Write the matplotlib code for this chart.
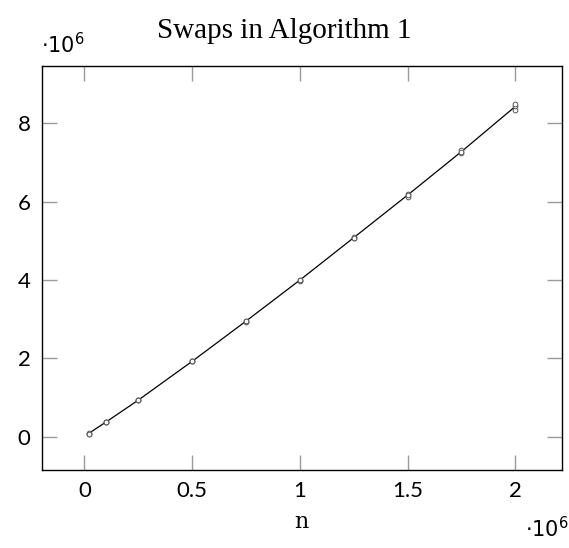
import numpy as np
import matplotlib
matplotlib.use("Agg")
import matplotlib.pyplot as plt
from matplotlib.ticker import FuncFormatter, MultipleLocator

# problem sizes and measured swap counts (three runs per size)
n = [0.02e6, 0.1e6, 0.25e6, 0.5e6, 0.75e6, 1.0e6, 1.25e6, 1.5e6, 1.75e6, 2.0e6]
swaps_run1 = [0.08e6, 0.37e6, 0.93e6, 1.92e6, 2.94e6, 3.98e6, 5.06e6, 6.13e6, 7.23e6, 8.34e6]
swaps_run2 = [0.09e6, 0.38e6, 0.94e6, 1.93e6, 2.96e6, 4.01e6, 5.10e6, 6.20e6, 7.32e6, 8.45e6]
swaps_run3 = [0.08e6, 0.37e6, 0.93e6, 1.92e6, 2.95e6, 4.00e6, 5.08e6, 6.17e6, 7.28e6, 8.50e6]

title = "Swaps in Algorithm 1"
xlabel = "n"

runs = np.array([swaps_run1, swaps_run2, swaps_run3])
mean_swaps = runs.mean(axis=0)

fig = plt.figure(figsize=(5.69, 5.48), dpi=100)
ax = fig.add_axes([0.0733, 0.1423, 0.9137, 0.7378])

ax.plot(n, mean_swaps, color="black", lw=0.9, zorder=2)
for r in runs:
    ax.plot(n, r, ls="none", marker="o", ms=3.4, mfc="white",
            mec="#555555", mew=0.7, zorder=3)

ax.set_xlim(-0.198e6, 2.215e6)
ax.set_ylim(-0.85e6, 9.47e6)
ax.xaxis.set_major_locator(MultipleLocator(0.5e6))
ax.yaxis.set_major_locator(MultipleLocator(2e6))
fmt = FuncFormatter(lambda v, p: f"{v / 1e6:g}")
ax.xaxis.set_major_formatter(fmt)
ax.yaxis.set_major_formatter(fmt)

ax.tick_params(direction="in", length=11, width=1.0, color="#9a9a9a",
               top=True, right=True, labelsize=16, pad=8)
for lab in ax.get_xticklabels() + ax.get_yticklabels():
    lab.set_family("Lato")
for s in ax.spines.values():
    s.set_linewidth(1.0)

fig.text(0.5, 0.931, title, ha="center", va="baseline",
         family="Liberation Serif", fontsize=21)
fig.text(0.53, 0.047, xlabel, ha="center", va="center",
         family="DejaVu Serif", fontsize=16)
fig.text(0.072, 0.918, r"$\cdot 10^{6}$", ha="left", va="center",
         fontsize=15, math_fontfamily="dejavusans")
fig.text(0.922, 0.035, r"$\cdot 10^{6}$", ha="left", va="center",
         fontsize=15, math_fontfamily="dejavusans")

fig.savefig("out.png", dpi=100)
